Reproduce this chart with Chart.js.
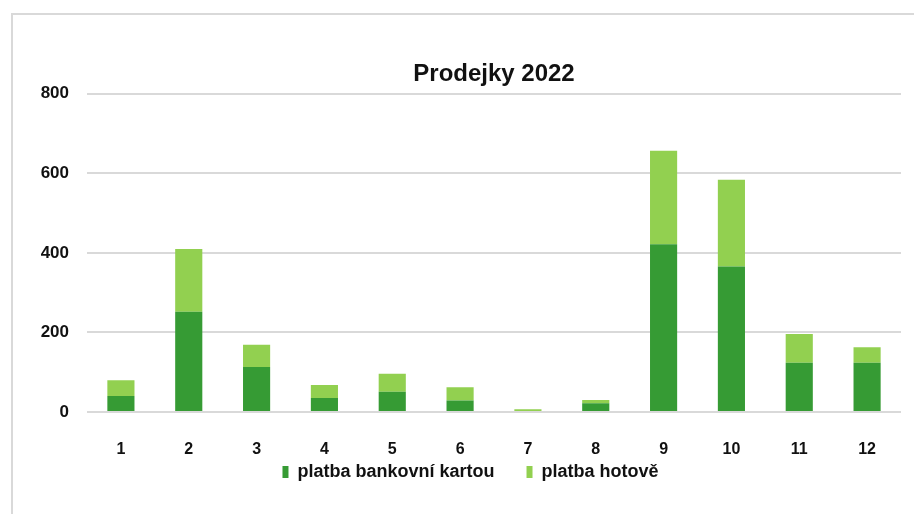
<!DOCTYPE html>
<html>
<head>
<meta charset="utf-8">
<script src="https://cdn.jsdelivr.net/npm/chart.js@4"></script>
<style>
  html, body { margin: 0; padding: 0; background: #fff; }
  #wrap { position: relative; width: 914px; height: 514px; }
  #frame { position: absolute; left: 11px; top: 13px; right: -5px; bottom: -5px;
           border: 2px solid #d9d9d9; pointer-events: none; }
</style>
</head>
<body>
<div id="wrap">
  <canvas id="myChart" width="914" height="514"></canvas>
  <div id="frame"></div>
</div>
<script>
'use strict';
const months = ['1', '2', '3', '4', '5', '6', '7', '8', '9', '10', '11', '12'];
const kartou = [40, 252, 113, 35, 51, 29, 0, 22, 422, 366, 124, 124];
const hotove = [40, 158, 56, 33, 45, 33, 7, 8, 235, 218, 72, 39];
const yTicks = [0, 200, 400, 600, 800];

const font = "'Liberation Sans', Arial, sans-serif";

// legend sits closer to the axis labels than chart.js would put it
const legendNudge = {
  id: 'legendNudge',
  afterLayout(chart) {
    const lg = chart.legend;
    lg.top -= 23;
    lg.bottom -= 23;
  },
};

const ctx = document.getElementById('myChart').getContext('2d');
const myChart = new Chart(ctx, {
  type: 'bar',
  data: {
    labels: months,
    datasets: [
      {
        label: 'platba bankovní kartou',
        data: kartou,
        backgroundColor: '#369b34',
        borderWidth: 0,
      },
      {
        label: 'platba hotově',
        data: hotove,
        backgroundColor: '#92d050',
        borderWidth: 0,
      },
    ],
  },
  plugins: [legendNudge],
  options: {
    responsive: false,
    animation: false,
    devicePixelRatio: 1,
    layout: {
      padding: { left: 40, right: 13, top: 60, bottom: 0 },
    },
    datasets: {
      bar: { categoryPercentage: 1, barPercentage: 0.4 },
    },
    plugins: {
      title: {
        display: true,
        text: 'Prodejky 2022',
        fullSize: false,
        color: '#111',
        font: { family: font, size: 24, weight: 'bold' },
        padding: { top: 0, bottom: 5 },
      },
      legend: {
        position: 'bottom',
        labels: {
          color: '#111',
          font: { family: font, size: 18, weight: 'bold' },
          boxWidth: 6,
          boxHeight: 12,
          padding: 32,
        },
      },
      tooltip: { enabled: false },
    },
    scales: {
      x: {
        stacked: true,
        grid: { display: false },
        border: { display: false },
        ticks: {
          color: '#111',
          font: { family: font, size: 16, weight: 'bold' },
          padding: 20,
          maxRotation: 0,
        },
        afterFit: scale => { scale.height = 42; },
      },
      y: {
        stacked: true,
        min: yTicks[0],
        max: yTicks[yTicks.length - 1],
        grid: { color: '#d9d9d9', lineWidth: 2, drawTicks: false },
        border: { display: false },
        ticks: {
          stepSize: 200,
          color: '#111',
          font: { family: font, size: 17, weight: 'bold' },
          padding: 18,
        },
        afterFit: scale => { scale.width = 47; },
      },
    },
  },
});
</script>
</body>
</html>
